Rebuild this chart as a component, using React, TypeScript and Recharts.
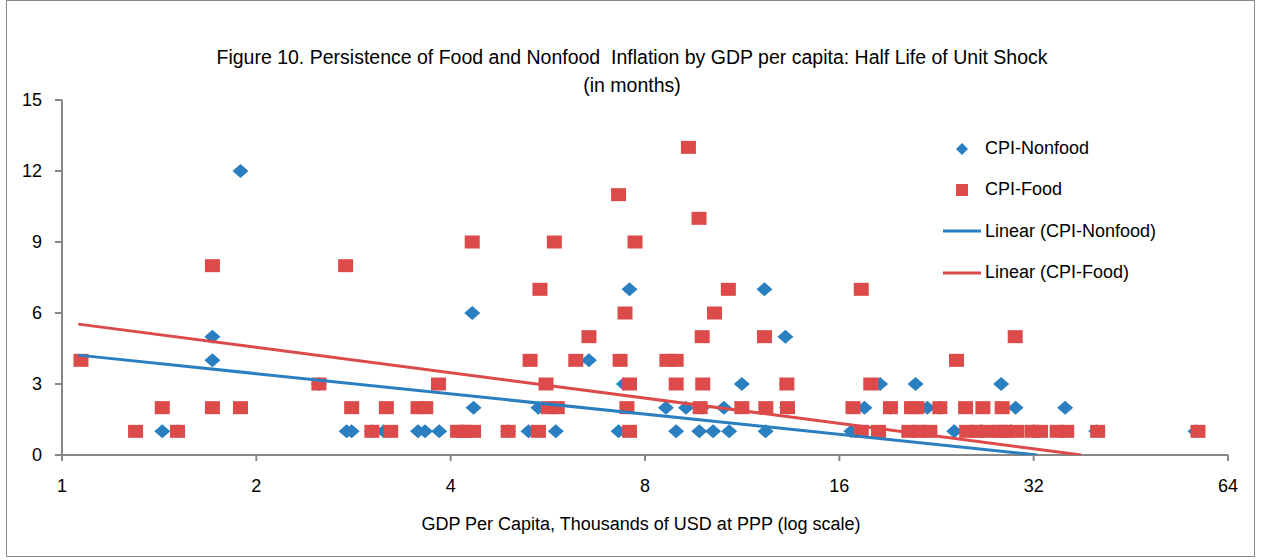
import { ScatterChart, Scatter, XAxis, YAxis } from 'recharts';

const BLUE = '#2a7fc1';
const RED = '#dd4a4a';
const AXIS = '#878787';
const FONT = '"Liberation Sans", Arial, sans-serif';

// GDP per capita (thousands USD, PPP) and half life (months)
const nonfoodGdp = [
  1.43, 1.51, 1.71, 1.71, 1.89, 2.5, 2.76, 2.81, 3.02, 3.15, 3.56, 3.65, 3.84, 4.17, 4.32, 4.34, 4.91,
  5.28, 5.47, 5.82, 6.55, 7.28, 7.42, 7.57, 8.62, 8.94, 9.26, 9.71, 9.8, 10.2, 10.6, 10.8, 11.3, 12.25,
  12.3, 13.2, 13.27, 16.7, 17.5, 18.5, 19.2, 21.0, 21.9, 22.9, 24.1, 26.5, 28.5, 29.5, 30.0, 32.0, 35.8,
  40.0, 57.0,
];
const nonfoodHalfLife = [
  1, 1, 5, 4, 12, 3, 1, 1, 1, 1, 1, 1, 1, 1, 6, 2, 1,
  1, 2, 1, 4, 1, 3, 7, 2, 1, 2, 1, 2, 1, 2, 1, 3, 7,
  1, 5, 2, 1, 2, 3, 2, 3, 2, 2, 1, 1, 3, 1, 2, 1, 2,
  1, 1,
];

const foodGdp = [
  1.07, 1.3, 1.43, 1.51, 1.71, 1.71, 1.89, 2.5, 2.75, 2.81, 3.02, 3.18, 3.23, 3.56, 3.66, 3.83, 4.1,
  4.21, 4.34, 4.32, 4.91, 5.31, 5.47, 5.5, 5.62, 5.67, 5.85, 5.79, 6.25, 6.55, 7.28, 7.32, 7.45, 7.5,
  7.57, 7.57, 7.72, 8.65, 8.94, 8.94, 9.34, 9.7, 9.74, 9.81, 9.83, 10.25, 10.77, 11.3, 12.25, 12.31,
  13.27, 13.3, 16.8, 17.3, 17.3, 17.9, 18.4, 19.2, 20.5, 20.7, 21.1, 21.3, 22.1, 22.9, 24.3, 25.1,
  25.2, 26.1, 26.7, 27.1, 28.4, 28.6, 28.9, 29.96, 30.1, 31.8, 32.8, 34.8, 36.0, 40.2, 57.5,
];
const foodHalfLife = [
  4, 1, 2, 1, 8, 2, 2, 3, 8, 2, 1, 2, 1, 2, 2, 3, 1,
  1, 1, 9, 1, 4, 1, 7, 3, 2, 2, 9, 4, 5, 11, 4, 6, 2,
  3, 1, 9, 4, 4, 3, 13, 10, 2, 5, 3, 6, 7, 2, 5, 2,
  3, 2, 2, 7, 1, 3, 1, 2, 1, 2, 2, 1, 1, 2, 4, 2,
  1, 1, 2, 1, 1, 2, 1, 5, 1, 1, 1, 1, 1, 1, 1,
];

// linear trend lines (endpoints)
const nonfoodTrendGdp = [1.06, 32.4];
const nonfoodTrendHalfLife = [4.22, 0];
const foodTrendGdp = [1.06, 37.9];
const foodTrendHalfLife = [5.53, 0];

const xTicks = [1, 2, 4, 8, 16, 32, 64];
const yTicks = [0, 3, 6, 9, 12, 15];

const zip = (xs: number[], ys: number[]) => xs.map((x, i) => ({ x, y: ys[i] }));

const Diamond = (props: any) => {
  const { cx, cy } = props;
  if (cx == null || cy == null) return <g />;
  return (
    <path
      d={`M${cx},${cy - 7} L${cx + 8},${cy} L${cx},${cy + 7} L${cx - 8},${cy} Z`}
      fill={BLUE}
    />
  );
};

const Square = (props: any) => {
  const { cx, cy } = props;
  if (cx == null || cy == null) return <g />;
  return <rect x={cx - 7.5} y={cy - 6.5} width={15} height={13} fill={RED} />;
};

const NoDot = () => <g />;

const legendItems = [
  { label: 'CPI-Nonfood', kind: 'diamond', color: BLUE },
  { label: 'CPI-Food', kind: 'square', color: RED },
  { label: 'Linear (CPI-Nonfood)', kind: 'line', color: BLUE },
  { label: 'Linear (CPI-Food)', kind: 'line', color: RED },
];

export default function App() {
  return (
    <div
      style={{
        position: 'absolute',
        left: 0,
        top: 0,
        width: 1266,
        height: 560,
        background: '#fff',
        fontFamily: FONT,
      }}
    >
      <div
        style={{
          position: 'absolute',
          left: 6,
          top: 0,
          width: 1247,
          height: 555,
          border: `1px solid ${AXIS}`,
        }}
      />
      <div
        style={{
          position: 'absolute',
          left: 0,
          width: 1264,
          top: 43,
          textAlign: 'center',
          fontSize: 19.5,
          lineHeight: '28px',
          color: '#000',
        }}
      >
        Figure 10. Persistence of Food and Nonfood&nbsp; Inflation by GDP per capita: Half Life of Unit Shock
        <br />
        (in months)
      </div>
      <ScatterChart width={1266} height={560} margin={{ top: 100, right: 38, bottom: 65, left: 12 }}>
        <XAxis
          type="number"
          dataKey="x"
          scale="log"
          domain={[1, 64]}
          ticks={xTicks}
          allowDataOverflow
          stroke={AXIS}
          strokeWidth={2}
          tickSize={6}
          tickMargin={18}
          height={40}
          tick={{ fill: '#000', fontSize: 18, fontFamily: FONT }}
        />
        <YAxis
          type="number"
          dataKey="y"
          domain={[0, 15]}
          ticks={yTicks}
          allowDataOverflow
          stroke={AXIS}
          strokeWidth={2}
          tickSize={7}
          tickMargin={13}
          width={50}
          tick={{ fill: '#000', fontSize: 18, fontFamily: FONT }}
        />
        <Scatter data={zip(nonfoodGdp, nonfoodHalfLife)} shape={Diamond} isAnimationActive={false} />
        <Scatter data={zip(foodGdp, foodHalfLife)} shape={Square} isAnimationActive={false} />
        <Scatter
          data={zip(nonfoodTrendGdp, nonfoodTrendHalfLife)}
          line={{ stroke: BLUE, strokeWidth: 3 }}
          shape={NoDot}
          isAnimationActive={false}
        />
        <Scatter
          data={zip(foodTrendGdp, foodTrendHalfLife)}
          line={{ stroke: RED, strokeWidth: 3 }}
          shape={NoDot}
          isAnimationActive={false}
        />
      </ScatterChart>
      <div
        style={{
          position: 'absolute',
          left: 0,
          width: 1282,
          top: 514,
          textAlign: 'center',
          fontSize: 18,
          color: '#000',
        }}
      >
        GDP Per Capita, Thousands of USD at PPP (log scale)
      </div>
      <div style={{ position: 'absolute', left: 940, top: 128, fontSize: 18, color: '#000' }}>
        {legendItems.map((it) => (
          <div key={it.label} style={{ display: 'flex', alignItems: 'center', height: 41.3 }}>
            <svg width={44} height={20} style={{ marginRight: 1 }}>
              {it.kind === 'diamond' && <path d="M22,4 L28,10 L22,16 L16,10 Z" fill={it.color} />}
              {it.kind === 'square' && <rect x={16} y={4} width={12} height={12} fill={it.color} />}
              {it.kind === 'line' && <line x1={3} y1={10} x2={41} y2={10} stroke={it.color} strokeWidth={3} />}
            </svg>
            <span>{it.label}</span>
          </div>
        ))}
      </div>
    </div>
  );
}
